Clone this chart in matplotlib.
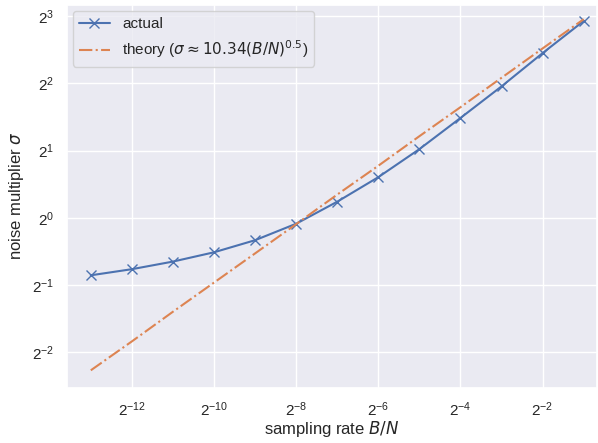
import matplotlib
matplotlib.use("Agg")
import matplotlib.pyplot as plt
import numpy as np
import seaborn as sns

sns.set_theme()
plt.rcParams["font.family"] = ["Liberation Sans", "DejaVu Sans"]

# sampling rate exponents (B/N = 2**k)
rate_exp = [-13, -12, -11, -10, -9, -8, -7, -6, -5, -4, -3, -2, -1]

# noise multiplier
sigma_actual = [0.552, 0.588, 0.636, 0.700, 0.793, 0.940, 1.18, 1.52, 2.03, 2.80, 3.88, 5.47, 7.62]
sigma_theory = [0.207, 0.279, 0.379, 0.512, 0.692, 0.936, 1.27, 1.71, 2.32, 3.13, 4.24, 5.74, 7.76]

xticks_exp = [-12, -10, -8, -6, -4, -2]
yticks_exp = [-2, -1, 0, 1, 2, 3]

rates = [2.0 ** k for k in rate_exp]

fig = plt.figure(figsize=(5.98, 4.43), dpi=100)
ax = fig.add_axes([0.112, 0.125, 0.886, 0.864])

ax.plot(rates, sigma_actual, marker="x", markersize=7, label="actual")
ax.plot(rates, sigma_theory, linestyle="-.",
        label=r"theory ($\sigma \approx 10.34(B/N)^{0.5}$)")

ax.set_xscale("log", base=2)
ax.set_yscale("log", base=2)
ax.set_xticks([2.0 ** k for k in xticks_exp])
ax.set_yticks([2.0 ** k for k in yticks_exp])
ax.minorticks_off()
ax.set_xlim(2 ** -13.58, 2 ** -0.68)
ax.set_ylim(2 ** -2.53, 2 ** 3.17)

ax.set_xlabel(r"sampling rate $B/N$", labelpad=0)
ax.set_ylabel(r"noise multiplier $\sigma$")
ax.legend(loc="upper left", borderaxespad=0.4)

fig.savefig("out.png", dpi=100)
